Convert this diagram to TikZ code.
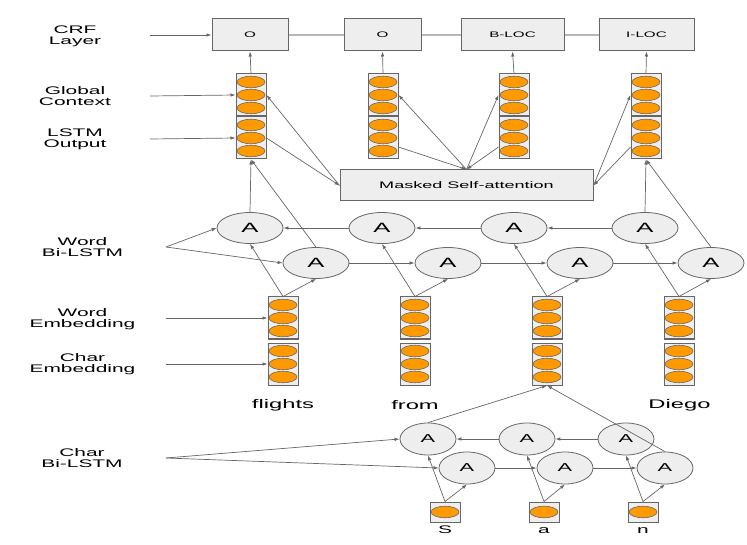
\documentclass[tikz,border=0pt]{standalone}
\usepackage{amsmath,amssymb}
\usepackage{fontspec}
\usepackage{tikz}
\usetikzlibrary{shapes.geometric,arrows.meta}
\newfontfamily\labfont[FakeStretch=1.9]{Liberation Sans}
\definecolor{boxgray}{HTML}{EEEEEE}
\definecolor{linegray}{HTML}{666666}
\definecolor{lightline}{HTML}{B7B7B7}
\definecolor{cellorange}{HTML}{FF9900}

\begin{document}
\begin{tikzpicture}[x=1pt,y=-1pt,
  >={Latex[length=5pt,width=3.5pt]},
  every edge/.style={draw=linegray,line width=0.7pt},
  chain/.style={draw=lightline,line width=1.3pt},
  lab/.style={align=center,inner sep=0pt,font=\labfont\fontsize{11}{11}\selectfont},
  word/.style={inner sep=0pt,font=\labfont\fontsize{12.5}{12.5}\selectfont},
  crf/.style={shape=rectangle,draw=linegray,fill=boxgray,line width=1pt,minimum height=32pt,font=\labfont\fontsize{8}{8}\selectfont},
  vec/.style={shape=rectangle,draw=linegray,fill=boxgray,line width=1pt,minimum width=30pt,minimum height=42pt,inner sep=0pt},
  dot/.style={shape=ellipse,draw=linegray,fill=cellorange,line width=0.6pt,minimum width=28pt,minimum height=11.5pt,inner sep=0pt},
  cell/.style={shape=ellipse,draw=linegray,fill=boxgray,line width=0.8pt,minimum width=66pt,minimum height=31pt,inner sep=0pt,font=\labfont\fontsize{13.5}{13.5}\selectfont},
  ccell/.style={shape=ellipse,draw=linegray,fill=boxgray,line width=0.8pt,minimum width=56pt,minimum height=32pt,inner sep=0pt,font=\labfont\fontsize{11.5}{11.5}\selectfont}]
\useasboundingbox (0,0) rectangle (747,545);

% labels on the left
\node[lab] (LC) at (75,36) {CRF\\Layer};
\node[lab] (LG) at (75,96) {Global\\Context};
\node[lab] (LH) at (75,139.5) {LSTM\\Output};
\node[lab] (LB) at (82.5,247.5) {Word\\Bi-LSTM};
\node[lab] (LE) at (82.5,319) {Word\\Embedding};
\node[lab] (LK) at (82.5,364.5) {Char\\Embedding};
\node[lab] (LP) at (82,458) {Char\\Bi-LSTM};
\coordinate (ac) at (150,35);
\coordinate (ag) at (150,96);
\coordinate (ah) at (150,139);
\coordinate (ab) at (166,247);
\coordinate (ae) at (166,318);
\coordinate (ak) at (166,364);
\coordinate (ap) at (166,458);

% CRF layer
\node[crf,minimum width=76pt] (C1) at (250,35) {O};
\node[crf,minimum width=77pt] (C2) at (382.5,35) {O};
\node[crf,minimum width=103pt] (C3) at (512.5,35) {B-LOC};
\node[crf,minimum width=95pt] (C4) at (646.5,35) {I-LOC};

% global context and lstm output
\node[vec] (G1) at (251,95) {};
\node[vec] (G2) at (383,95) {};
\node[vec] (G3) at (514,95) {};
\node[vec] (G4) at (646,95) {};
\node[vec] (H1) at (251,138) {};
\node[vec] (H2) at (383,138) {};
\node[vec] (H3) at (514,138) {};
\node[vec] (H4) at (646,138) {};
\node[crf,minimum width=253pt,minimum height=31pt,font=\labfont\fontsize{9.5}{9.5}\selectfont] (M) at (466.5,185.5) {Masked Self-attention};

% word bi-lstm
\node[cell] (B1) at (250,228) {A};
\node[cell] (B2) at (382,228) {A};
\node[cell] (B3) at (514,228) {A};
\node[cell] (B4) at (645,228) {A};
\node[cell] (F1) at (316,263) {A};
\node[cell] (F2) at (448,263) {A};
\node[cell] (F3) at (580,263) {A};
\node[cell] (F4) at (711,263) {A};

% word and char embeddings
\node[vec] (E1) at (283,318) {};
\node[vec] (E2) at (415,318) {};
\node[vec] (E3) at (547,318) {};
\node[vec] (E4) at (679,318) {};
\node[vec] (K1) at (283,364) {};
\node[vec] (K2) at (415,364) {};
\node[vec] (K3) at (547,364) {};
\node[vec] (K4) at (679,364) {};
\foreach \v in {G1,G2,G3,G4,H1,H2,H3,H4,E1,E2,E3,E4,K1,K2,K3,K4}
  \foreach \d in {13pt,0pt,-13pt}
    \node[dot] at ([yshift=\d]\v.center) {};

\node[word] (W1) at (283,405) {flights};
\node[word] (W2) at (415,405) {from};
\node[word] (W3) at (679.5,405) {Diego};

% char bi-lstm
\node[ccell] (P1) at (428,439) {A};
\node[ccell] (P2) at (527,439) {A};
\node[ccell] (P3) at (626,439) {A};
\node[ccell] (Q1) at (467,468) {A};
\node[ccell] (Q2) at (565,468) {A};
\node[ccell] (Q3) at (665,468) {A};
\node[vec,minimum height=20pt] (S1) at (445,512) {};
\node[vec,minimum height=20pt] (S2) at (544,512) {};
\node[vec,minimum height=20pt] (S3) at (643,512) {};
\node[dot] at (S1.center) {};
\node[dot] at (S2.center) {};
\node[dot] at (S3.center) {};
\node[word,anchor=base,font=\labfont\fontsize{11}{11}\selectfont] (T1) at (445,533) {S};
\node[word,anchor=base,font=\labfont\fontsize{11}{11}\selectfont] (T2) at (544,533) {a};
\node[word,anchor=base,font=\labfont\fontsize{11}{11}\selectfont] (T3) at (643,533) {n};

% connections
\path [->] (ac) edge (C1);
\path [->] (ag) edge (G1.west);
\path [->] (ah) edge (H1.west);
\path [] (C1) edge[chain] (C2);
\path [] (C2) edge[chain] (C3);
\path [] (C3) edge[chain] (C4);
\path [->] (G1.north) edge (C1.south);
\path [->] (G2.north) edge (C2.south);
\path [->] (G3.north) edge (C3.south);
\path [->] (G4.north) edge (C4.south);
\path [->] (M.west) edge (G1.east);
\path [->] (H1.east) edge (M.west);
\path [->] (M.north) edge (G2.east);
\path [->] ([yshift=-9pt]H2.east) edge (M.north);
\path [->] (M.north) edge (G3.west);
\path [->] ([yshift=-9pt]H3.west) edge (M.north);
\path [->] (M.east) edge (G4.west);
\path [->] ([yshift=-9pt]H4.west) edge (M.east);
\path [->] (B1.north) edge (H1.south);
\path [->] (F1.north) edge (H1.south);
\path [->] (B4.north) edge (H4.south);
\path [->] (F4.north) edge (H4.south);
\path [->] (B2) edge (B1);
\path [->] (B3) edge (B2);
\path [->] (B4) edge (B3);
\path [->] (F1) edge (F2);
\path [->] (F2) edge (F3);
\path [->] (F3) edge (F4);
\path [->] (ab) edge (B1.west);
\path [->] (ab) edge (F1.west);
\path [->] (E1.north) edge (B1.south);
\path [->] (E1.north) edge (F1.south);
\path [->] (E2.north) edge (B2.south);
\path [->] (E2.north) edge (F2.south);
\path [->] (E3.north) edge (B3.south);
\path [->] (E3.north) edge (F3.south);
\path [->] (E4.north) edge (B4.south);
\path [->] (E4.north) edge (F4.south);
\path [->] (ae) edge (E1.west);
\path [->] (ak) edge (K1.west);
\path [->] (P1.north) edge (K3.south);
\path [->] (Q3.north) edge (K3.south);
\path [->] (P2) edge (P1);
\path [->] (P3) edge (P2);
\path [->] (Q1) edge (Q2);
\path [->] (Q2) edge (Q3);
\path [->] (ap) edge (P1.west);
\path [->] (ap) edge (Q1.west);
\path [->] (S1.north) edge (P1.south);
\path [->] (S1.north) edge (Q1.south);
\path [->] (S2.north) edge (P2.south);
\path [->] (S2.north) edge (Q2.south);
\path [->] (S3.north) edge (P3.south);
\path [->] (S3.north) edge (Q3.south);
\end{tikzpicture}
\end{document}
